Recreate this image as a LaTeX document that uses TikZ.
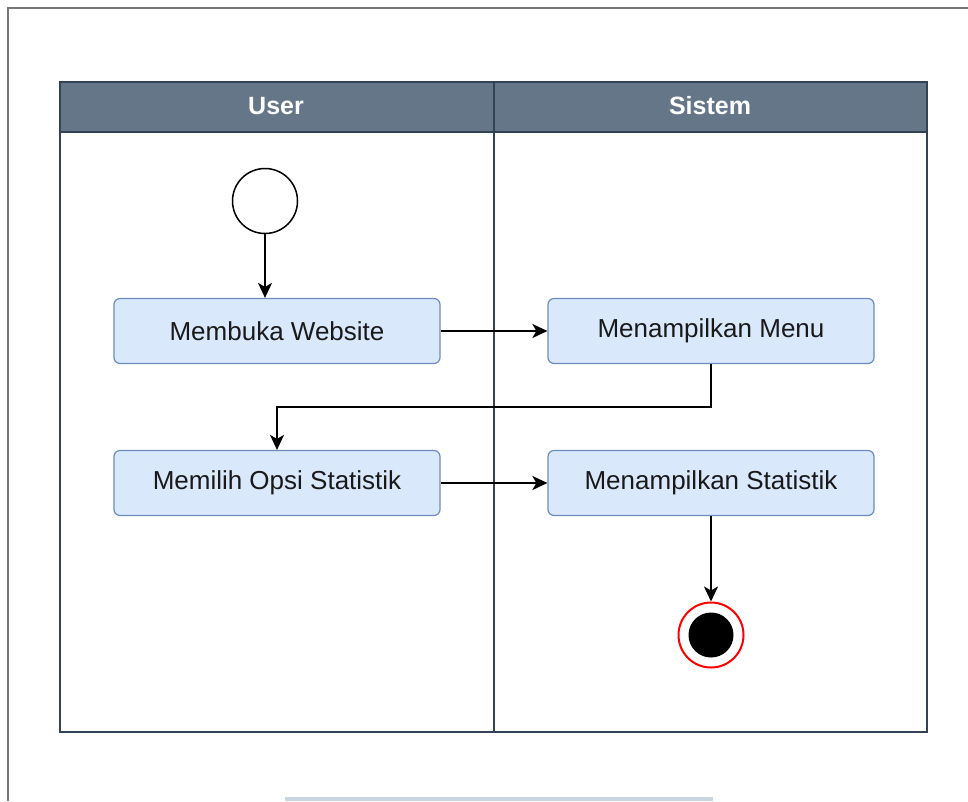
\documentclass[tikz,border=0pt]{standalone}
\usepackage{fontspec}
\setmainfont{Liberation Sans}
\usetikzlibrary{arrows.meta}
\definecolor{hdrfill}{HTML}{647687}
\definecolor{hdrdraw}{HTML}{314354}
\definecolor{actfill}{HTML}{DAE8FC}
\definecolor{actdraw}{HTML}{6C8EBF}
\definecolor{frame}{HTML}{777777}
\definecolor{barfill}{HTML}{C9D6E2}
\tikzset{
  actbox/.style={draw=actdraw, fill=actfill, line width=1.2pt, rounded corners=6pt,
    minimum width=326pt, minimum height=65pt, inner sep=0pt,
    font=\fontsize{26}{30}\selectfont, text=black!90},
  hdrtext/.style={text=white, font=\bfseries\fontsize{25}{29}\selectfont},
  flow/.style={draw=black, line width=2pt, -{Stealth[length=15pt,width=14pt,inset=4pt]}},
  lane/.style={draw=hdrdraw, line width=1.5pt},
}
\begin{document}
\begin{tikzpicture}[x=1pt,y=-1pt]
\useasboundingbox (0,0) rectangle (968,801);
% outer frame
\draw[frame, line width=1.5pt] (8,801) -- (8,8) -- (968,8);
\fill[barfill] (285,797) rectangle (713,801);
% pool
\fill[white] (60,82) rectangle (927,732);
\fill[hdrfill] (60,82) rectangle (927,132);
\draw[lane] (60,82) rectangle (927,732);
\draw[lane] (60,132) -- (927,132);
\draw[lane] (494,82) -- (494,732);
\node[hdrtext] (huser) at (276,106) {User};
\node[hdrtext] (hsys) at (710,106) {Sistem};
% nodes
\node[draw=black, line width=1.5pt, circle, minimum size=65pt, inner sep=0pt, fill=white] (start) at (265,201) {};
\node[actbox] (a1) at (277,331) {Membuka Website};
\node[actbox] (a2) at (711,331) {Menampilkan Menu};
\node[actbox] (a3) at (277,483) {Memilih Opsi Statistik};
\node[actbox] (a4) at (711,483) {Menampilkan Statistik};
\node[draw=red, line width=2pt, circle, minimum size=65pt, inner sep=0pt, fill=white] (endo) at (711,635) {};
\node[circle, fill=black, minimum size=45pt, inner sep=0pt] (endi) at (endo) {};
% connectors
\coordinate (k1) at (a2.south |- 0,407);
\coordinate (k2) at (a3.north |- 0,407);
\draw[flow] (start.south) -- (start.south |- a1.north);
\draw[flow] (a1.east) -- (a2.west);
\draw[flow] (a2.south) -- (k1) -- (k2) -- (a3.north);
\draw[flow] (a3.east) -- (a4.west);
\draw[flow] (a4.south) -- (endo.north);
\end{tikzpicture}
\end{document}
